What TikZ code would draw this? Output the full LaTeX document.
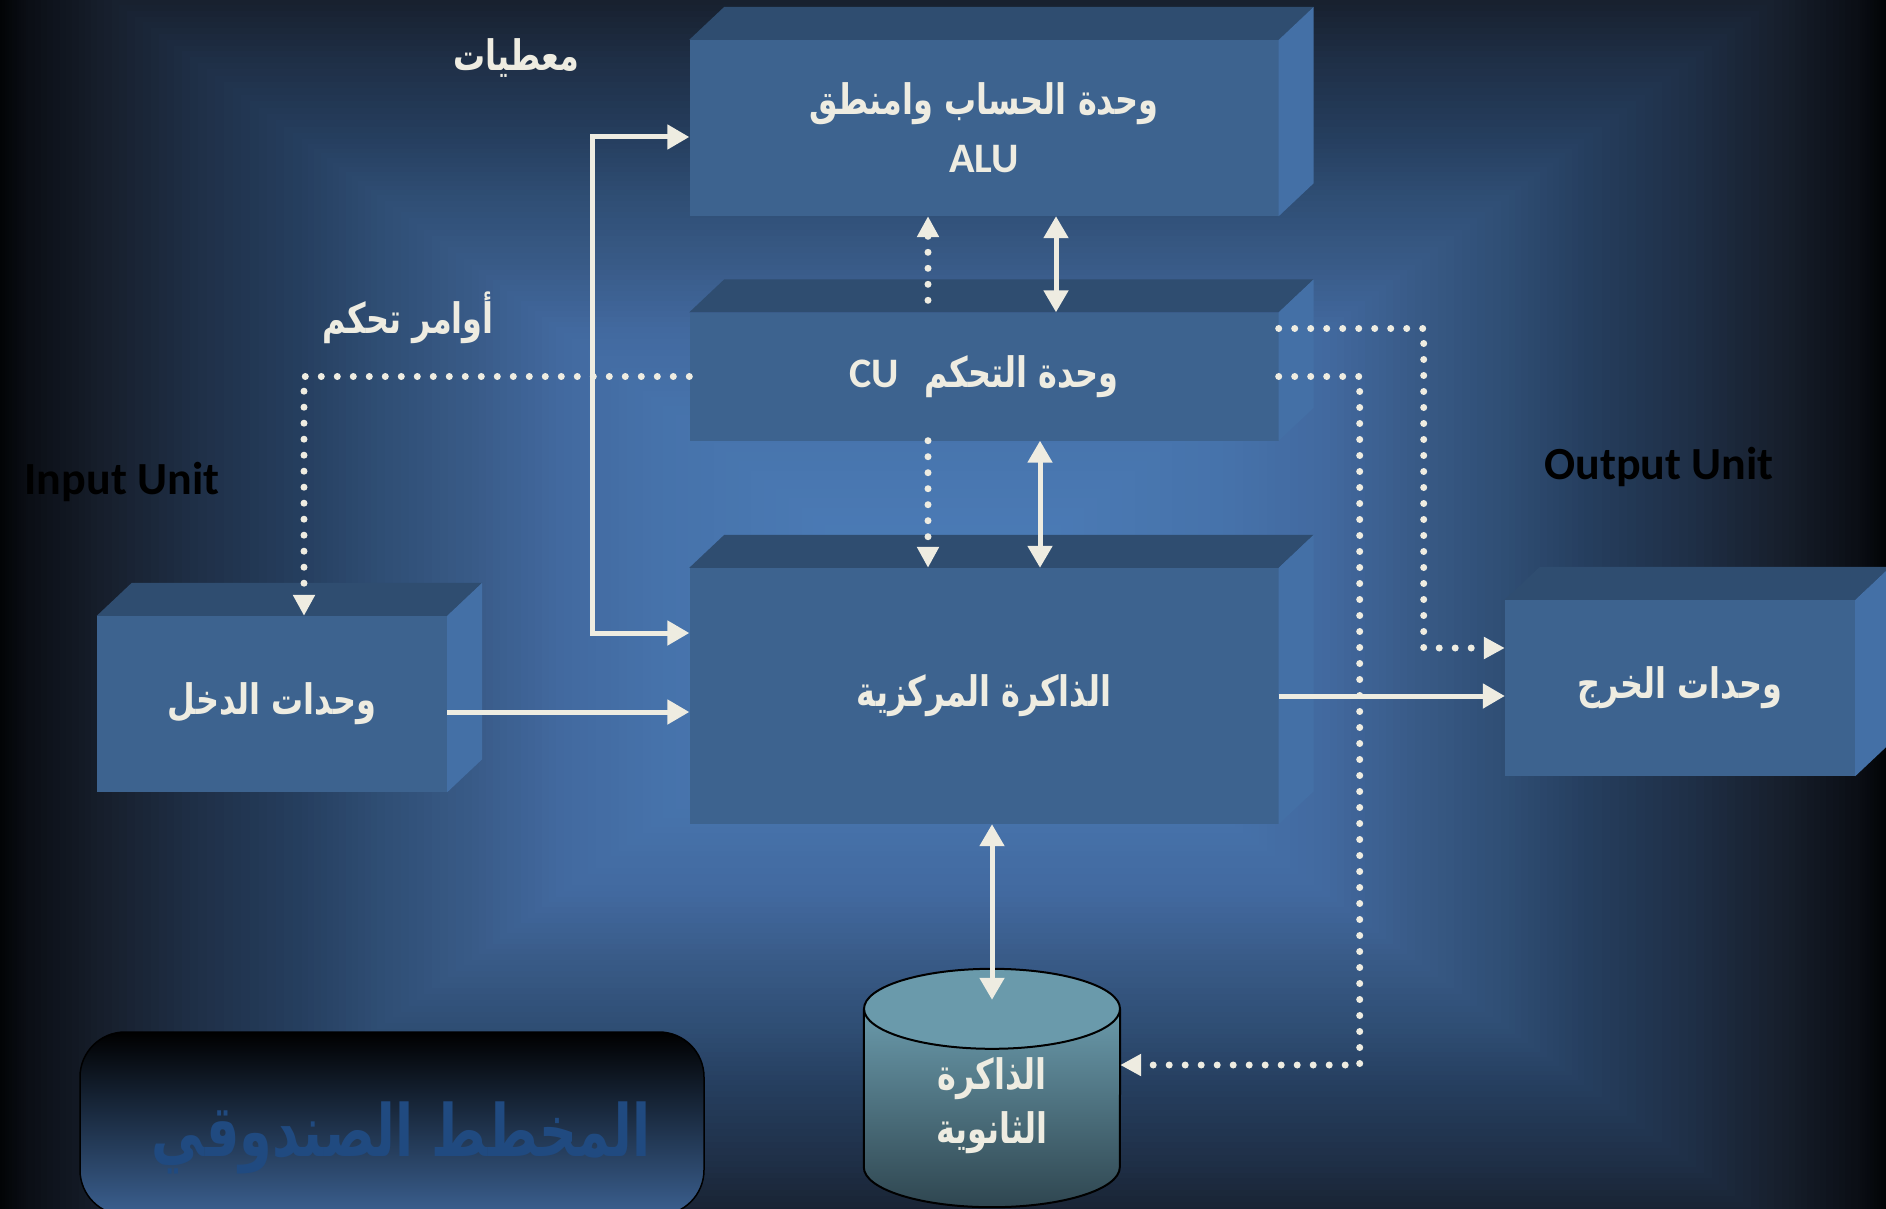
\documentclass[tikz,border=0pt]{standalone}
\usepackage{fontspec}
\usepackage{xcolor}
\usepackage{graphicx}
\usepackage{tikz}
\usetikzlibrary{positioning,arrows.meta}
\TeXXeTstate=1
\newfontfamily\arabicfont[Script=Arabic]{DejaVu Sans}
\newfontfamily\latinfont{Carlito}

\definecolor{cream}{HTML}{EEECE1}
\definecolor{boxfront}{HTML}{3D638F}
\definecolor{boxtop}{HTML}{2F4D70}
\definecolor{boxside}{HTML}{4470A6}
\definecolor{diskA}{HTML}{6A9AAB}
\definecolor{diskB}{HTML}{2F4650}
\definecolor{titlebot}{HTML}{3B6090}
\definecolor{titleblue}{HTML}{204A80}
% background stops, outside -> centre
\definecolor{bgs0}{HTML}{020406}
\definecolor{bgs1}{HTML}{0B0F16}
\definecolor{bgs2}{HTML}{171F2D}
\definecolor{bgs3}{HTML}{1F3048}
\definecolor{bgs4}{HTML}{263F60}
\definecolor{bgs5}{HTML}{2F4E74}
\definecolor{bgs6}{HTML}{395B88}
\definecolor{bgs7}{HTML}{42699F}
\definecolor{bgs8}{HTML}{4672AA}
\definecolor{bgs9}{HTML}{4A79B3}
\definecolor{bgs10}{HTML}{4C7CB8}

\newcommand\labelfont{\arabicfont\bfseries\fontsize{42}{54}\selectfont}
\newcommand\unitfont{\latinfont\bfseries\fontsize{46}{50}\selectfont}
\newcommand\titlefont{\arabicfont\bfseries\fontsize{72}{80}\selectfont}
\newcommand\artext[1]{\scalebox{0.76}[1]{\beginR #1\endR}}

\tikzset{
  unitbox/.style={fill=boxfront, inner sep=0pt, text=cream, align=center, font=\labelfont},
  dataline/.style={draw=cream, line width=5pt},
  ctrlline/.style={draw=cream, line width=7pt, line cap=round, dash pattern=on 0pt off 16pt,
    -{Triangle[length=21pt,width=21pt]}},
  sidelabel/.style={text=cream, font=\labelfont},
  unitlabel/.style={text=black, font=\unitfont}
}

% top and right face of a unit box
\newcommand\boxsides[1]{%
  \fill[boxtop] (#1.north west) -- ++(35,-33) -- ([shift={(35,-33)}]#1.north east) -- (#1.north east) -- cycle;
  \fill[boxside] (#1.north east) -- ++(35,-33) -- ([shift={(35,-33)}]#1.south east) -- (#1.south east) -- cycle;}

\begin{document}
\begin{tikzpicture}[x=1pt, y=-1pt, >={Triangle[length=22pt,width=24pt]}]
\useasboundingbox (0,0) rectangle (1886,1209);
% background: rectangular gradient
\begin{scope}
  \clip (0,0) rectangle (1886,1209);
  \foreach \ta/\tb/\ca/\cb in {100/97/bgs0/bgs1, 97/89/bgs1/bgs2, 89/79/bgs2/bgs3, 79/68/bgs3/bgs4,
      68/60/bgs4/bgs5, 60/50/bgs5/bgs6, 50/41/bgs6/bgs7, 41/31/bgs7/bgs8, 31/15/bgs8/bgs9, 15/0/bgs9/bgs10}{
    \foreach \k in {0,...,12}{
      \pgfmathsetmacro\t{(\ta-(\ta-\tb)*\k/12)/100}
      \pgfmathtruncatemacro\p{100-100*\k/12}
      \fill[\ca!\p!\cb] ({943-943*\t},{612-695*\t}) rectangle ({943+943*\t},{612+695*\t});
    }
  }
\end{scope}

% units
\node[unitbox, minimum width=589, minimum height=176] (alu) at (984,128) {\artext{وحدة الحساب وامنطق}\\[4pt]{\latinfont\fontsize{42}{46}\selectfont ALU}};
\boxsides{alu}
\node[unitbox, minimum width=589, minimum height=128] (cu) at (984,376.5) {{\latinfont\fontsize{42}{46}\selectfont CU}\hspace{26pt}\artext{وحدة التحكم}};
\boxsides{cu}
\node[unitbox, minimum width=589, minimum height=256] (mem) at (984,696) {\artext{الذاكرة المركزية}};
\boxsides{mem}
\node[unitbox, minimum width=350, minimum height=176] (in) at (272,704) {\artext{وحدات الدخل}};
\boxsides{in}
\node[unitbox, minimum width=350, minimum height=176] (out) at (1680,688) {\artext{وحدات الخرج}};
\boxsides{out}

% secondary memory
\node[minimum width=256, minimum height=238, inner sep=0pt] (disk) at (992,1088) {};
\shade[top color=diskA, bottom color=diskB] ([yshift=-40pt]disk.north west) rectangle ([yshift=40pt]disk.south east) ([yshift=40pt]disk.south) ellipse [x radius=128pt, y radius=40pt];
\draw[line width=2pt] ([yshift=-40pt]disk.north west) -- ([yshift=40pt]disk.south west) arc[start angle=180, end angle=360, x radius=128pt, y radius=40pt] -- ([yshift=-40pt]disk.north east);
\filldraw[fill=diskA, line width=2pt] ([yshift=-40pt]disk.north) ellipse [x radius=128pt, y radius=40pt];
\node[sidelabel, align=center] (disklbl) at ([yshift=-18pt]disk.center) {\artext{الذاكرة}\\\artext{الثانوية}};

% labels
\node[sidelabel] (data) at (516,58) {\artext{معطيات}};
\node[sidelabel] (ctrl) at (408,318) {\artext{أوامر تحكم}};
\node[unitlabel] (inlbl) at (122,482) {Input Unit};
\node[unitlabel] (outlbl) at (1659,467) {Output Unit};

% title
\shadedraw[top color=black, bottom color=titlebot, draw=black, line width=1.5pt, rounded corners=45pt] (80,1032) rectangle (704,1215);
\node[font=\titlefont, text=titleblue] (title) at (401,1138) {\scalebox{0.73}[1]{\beginR المخطط الصندوقي\endR}};

% data paths
\draw[dataline, <->] ([yshift=-9pt]alu.west) -- ++(-97,0) |- ([yshift=63pt]mem.west);
\coordinate (inout) at ([yshift=-8pt]in.east);
\draw[dataline, ->] (inout) -- (inout -| mem.west);
\draw[dataline, ->] (mem.east) -- (mem.east -| out.west);
\draw[dataline, <->] ([xshift=72pt]alu.south) -- ([xshift=72pt]cu.north);
\draw[dataline, <->] ([xshift=56pt]cu.south) -- ([xshift=56pt]mem.north);
\draw[dataline, <->] (disk.north |- mem.south) -- ([yshift=-31pt]disk.north);

% control paths
\draw[ctrlline] ([xshift=-56pt,yshift=12pt]cu.north) -- ([xshift=-56pt]alu.south);
\draw[ctrlline] ([xshift=-56pt]cu.south) -- ([xshift=-56pt]mem.north);
\draw[ctrlline] (cu.west) -| ([xshift=32pt]in.north);
\draw[ctrlline] ([yshift=48pt]cu.east) -- ++(145,0) |- ([yshift=40pt]out.west);
\draw[ctrlline] (cu.east) -- ++(81,0) |- ([yshift=23pt]disk.east);
\end{tikzpicture}
\end{document}
